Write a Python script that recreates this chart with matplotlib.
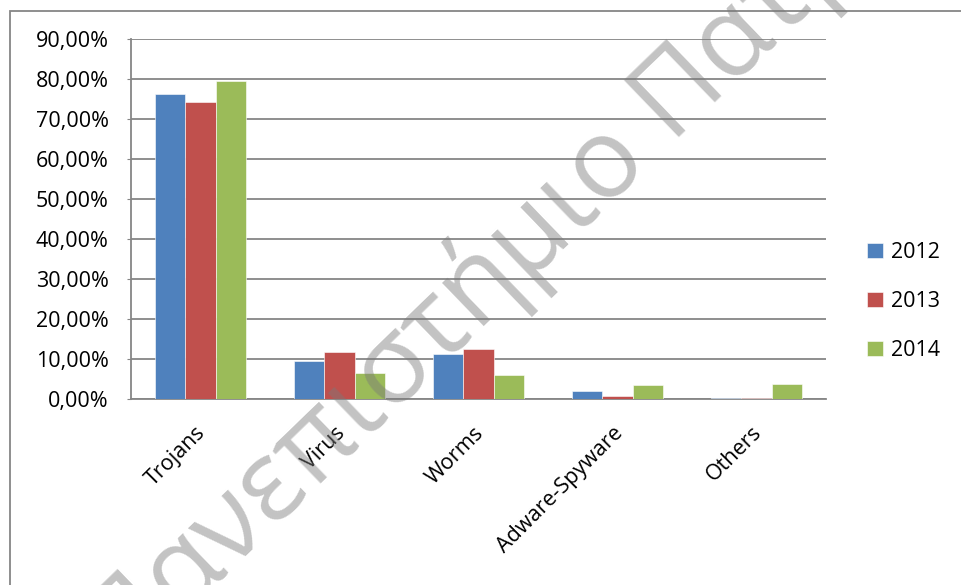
import matplotlib
matplotlib.use("Agg")
import matplotlib.pyplot as plt
import matplotlib.transforms as mtransforms
from matplotlib.patches import Rectangle
from matplotlib.ticker import FuncFormatter, MultipleLocator
import numpy as np

# Malware share by category and year (percent)
categories = ["Trojans", "Virus", "Worms", "Adware-Spyware", "Others"]
years = ["2012", "2013", "2014"]
share_2012 = [76.3, 9.6, 11.3, 2.1, 0.2]
share_2013 = [74.3, 11.7, 12.6, 0.8, 0.2]
share_2014 = [79.5, 6.6, 6.0, 3.5, 3.8]
colors = ["#4F81BD", "#C0504D", "#9BBB59"]
watermark = "Πανεπιστήμιο Πατρών"

plt.rcParams['font.family'] = ['Open Sans', 'DejaVu Sans']

fig = plt.figure(figsize=(9.61, 5.85), dpi=100)
ax = fig.add_axes([0.1363, 0.3179, 0.7232, 0.6154])

# outer chart frame
fig.patches.append(Rectangle((10 / 961, -0.1), 1.2, 1 - 11 / 585 + 0.1,
                             transform=fig.transFigure, fill=False,
                             edgecolor="#868686", linewidth=1.3, zorder=0))

x = np.arange(len(categories))
width = 0.22
for i, (vals, yr) in enumerate(zip([share_2012, share_2013, share_2014], years)):
    ax.bar(x + (i - 1) * width, vals, width, color=colors[i], label=yr,
           edgecolor="white", linewidth=0.4, zorder=3)

ax.set_xlim(-0.5, len(categories) - 0.5)
ax.set_ylim(0, 90)
ax.yaxis.set_major_locator(MultipleLocator(10))
ax.yaxis.set_major_formatter(FuncFormatter(lambda v, p: f"{v:.2f}%".replace(".", ",")))
ax.grid(axis="y", color="#868686", linewidth=1.3, zorder=0)

for s in ["top", "right"]:
    ax.spines[s].set_visible(False)
for s in ["left", "bottom"]:
    ax.spines[s].set_color("#868686")
    ax.spines[s].set_linewidth(1.3)

ax.tick_params(axis="y", length=3, color="#868686", labelsize=15.5, pad=13)
ax.tick_params(axis="x", length=0, labelsize=15.5, pad=25)
ax.set_xticks(x)
ax.set_xticklabels(categories, rotation=45, ha="right", va="baseline", rotation_mode="anchor")
shift = mtransforms.ScaledTranslation(0.06, 0, fig.dpi_scale_trans)
for lbl in ax.get_xticklabels():
    lbl.set_transform(lbl.get_transform() + shift)

leg = ax.legend(loc="center left", bbox_to_anchor=(1.059, 0.271), frameon=False,
                fontsize=15.5, handlelength=0.75, handleheight=0.75,
                labelspacing=1.3, handletextpad=0.35, borderpad=0, borderaxespad=0)

fig.text(0.546, 0.585, watermark, fontsize=80, rotation=44, color="#7a7a7a",
         alpha=0.45, ha="center", va="center", zorder=10)

fig.savefig("out.png", dpi=100)
